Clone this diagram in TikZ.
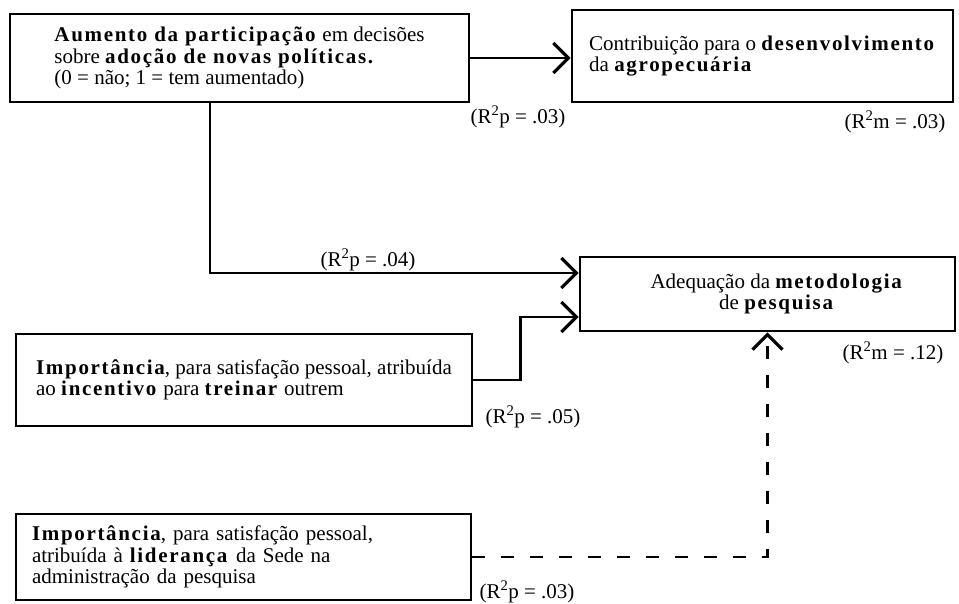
\documentclass[tikz,border=0pt]{standalone}
\usepackage{fontspec}
\setmainfont{Liberation Serif}[BoldFeatures={LetterSpace=8}]
\usepackage{tikz}
\usetikzlibrary{arrows.meta}

\begin{document}
\begin{tikzpicture}[x=1pt, y=-1pt,
	caixa/.style={draw, line width=2.8pt, inner sep=0pt, font=\fontsize{21}{21.5}\selectfont},
	seta/.style={line width=2.6pt, -{Straight Barb[length=15pt, width=30pt, line width=3.2pt]}},
	rotulo/.style={font=\fontsize{21}{21.5}\selectfont, inner sep=0pt}]
	\useasboundingbox (0,0) rectangle (959,603);
	\node (aumento) at (239.5,58) [caixa, minimum width=459pt, minimum height=88pt, align=left]
		{\textbf{Aumento da participação} em decisões\\ sobre \textbf{adoção de novas políticas.}\\ (0 = não; 1 = tem aumentado)};
	\node (contrib) at (762.5,56) [caixa, minimum width=381pt, minimum height=92pt, align=left]
		{Contribuição para o \textbf{desenvolvimento}\\ da \textbf{agropecuária}};
	\node (adequa) at (767.5,294) [caixa, minimum width=375pt, minimum height=74pt, align=center]
		{\hspace*{19pt}Adequação da \textbf{metodologia}\\ \hspace*{19pt}de \textbf{pesquisa}};
	\node (incentivo) at (244,380) [caixa, minimum width=456pt, minimum height=92pt, align=left]
		{\textbf{Importância}, para satisfação pessoal, atribuída\\ ao \textbf{incentivo} para \textbf{treinar} outrem};
	\node (lideranca) at (243.5,557) [caixa, minimum height=86pt, inner xsep=16pt, text width=423pt, align=left]
		{\textbf{Importância}, para satisfação pessoal,\\ atribuída à \textbf{liderança} da Sede na\\ administração da pesquisa};
	% coeficientes
	\node (r1) at (518,117) [rotulo] {(R\textsuperscript{2}p = .03)};
	\node (r2) at (895,122) [rotulo] {(R\textsuperscript{2}m = .03)};
	\node (r3) at (368,260) [rotulo] {(R\textsuperscript{2}p = .04)};
	\node (r4) at (893,353) [rotulo] {(R\textsuperscript{2}m = .12)};
	\node (r5) at (533,417) [rotulo] {(R\textsuperscript{2}p = .05)};
	\node (r6) at (527,592) [rotulo] {(R\textsuperscript{2}p = .03)};
	\draw[seta] (aumento.east) -- (aumento.east -| contrib.west);
	\draw[seta] ([xshift=-29.5pt]aumento.south) |- ([yshift=21pt]adequa.west);
	\draw[seta] (incentivo.east) -- ++(47,0) |- ([yshift=-23pt]adequa.west);
	\draw[seta, dash pattern=on 13pt off 16pt] (lideranca.east) -| (adequa.south);
\end{tikzpicture}
\end{document}
